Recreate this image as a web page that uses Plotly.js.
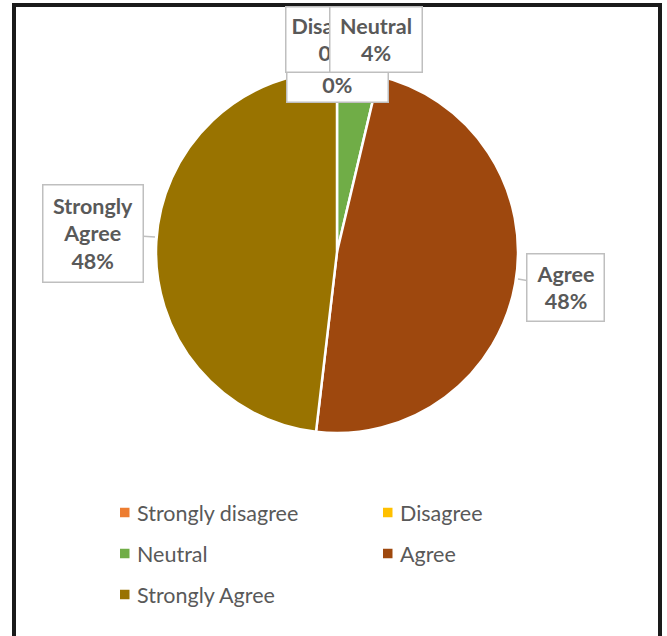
<!DOCTYPE html>
<html>
<head>
<meta charset="utf-8">
<script src="https://cdn.plot.ly/plotly-3.0.1.min.js"></script>
<style>html,body{margin:0;padding:0;background:#fff;}#chart{width:667px;height:636px;}</style>
</head>
<body>
<div id="chart"></div>
<script>
// ---- data ----
const categories = ["Strongly disagree", "Disagree", "Neutral", "Agree", "Strongly Agree"];
const labelText = ["Strongly<br>disagree", "Disagree", "Neutral", "Agree", "Strongly<br>Agree"];
const percents = [0, 0, 3.7, 48.15, 48.15];
const colors = ["#ED7D31", "#FFC000", "#70AD47", "#9E480E", "#997300"];

const W = 667, H = 636;
const fx = p => p / W;
const fy = p => 1 - p / H;
const txtColor = "#595959";
const font = "Lato, 'Open Sans', sans-serif";

const trace = {
  type: "pie",
  labels: categories,
  values: percents,
  marker: {colors: colors, line: {color: "#ffffff", width: 2.5}},
  sort: false,
  direction: "clockwise",
  rotation: 0,
  textinfo: "none",
  hoverinfo: "label+percent",
  showlegend: false,
  domain: {x: [fx(156), fx(518)], y: [fy(433), fy(71)]}
};

// data label callout boxes (box center px, size px, optional tail tip)
const boxes = [
  {i: 0, cx: 337.5, cy: 58, w: 100, h: 88},
  {i: 1, cx: 333, cy: 39.5, w: 94, h: 64},
  {i: 2, cx: 376, cy: 39.5, w: 91, h: 64},
  {i: 3, cx: 565.5, cy: 287.5, w: 76, h: 66, tip: [518, 279]},
  {i: 4, cx: 93, cy: 233.5, w: 99, h: 96, tip: [155, 237]}
];

const annotations = [];
boxes.forEach(b => {
  const a = {
    text: labelText[b.i] + "<br>" + Math.round(percents[b.i]) + "%",
    font: {family: font, size: 21.5, color: txtColor, weight: "bold"},
    bgcolor: "#ffffff",
    bordercolor: "#bfbfbf",
    borderwidth: 1.5,
    borderpad: 0,
    width: b.w,
    height: b.h,
    xref: "paper", yref: "paper",
    align: "center", valign: "middle"
  };
  if (b.tip) {
    a.x = fx(b.tip[0]); a.y = fy(b.tip[1]);
    a.showarrow = true; a.arrowhead = 0; a.arrowwidth = 1.5;
    a.arrowcolor = "#bfbfbf"; a.standoff = 0;
    a.ax = b.cx - b.tip[0]; a.ay = b.cy - b.tip[1];
  } else {
    a.x = fx(b.cx); a.y = fy(b.cy);
    a.xanchor = "center"; a.yanchor = "middle";
    a.showarrow = false;
  }
  annotations.push(a);
});

// legend (two columns)
const shapes = [];
const colX = [120, 383];
categories.forEach((c, i) => {
  const col = i % 2, row = Math.floor(i / 2);
  const x = colX[col], y = 512.5 + row * 41;
  shapes.push({type: "rect", xref: "paper", yref: "paper",
    x0: fx(x), x1: fx(x + 9.5), y0: fy(y + 4.75), y1: fy(y - 4.75),
    fillcolor: colors[i], line: {width: 0}});
  annotations.push({text: c, x: fx(x + 15), y: fy(y), xref: "paper", yref: "paper",
    xanchor: "left", yanchor: "middle", showarrow: false,
    font: {family: font, size: 21.5, color: txtColor}});
});

// outer frame
shapes.push({type: "rect", xref: "paper", yref: "paper",
  x0: fx(14), x1: fx(660), y0: fy(660), y1: fy(5),
  line: {color: "#1a1a1a", width: 4}, fillcolor: "rgba(0,0,0,0)"});

const layout = {
  width: W, height: H,
  margin: {l: 0, r: 0, t: 0, b: 0},
  paper_bgcolor: "#ffffff",
  showlegend: false,
  annotations: annotations,
  shapes: shapes
};

Plotly.newPlot("chart", [trace], layout, {displayModeBar: false, staticPlot: true});
</script>
</body>
</html>
